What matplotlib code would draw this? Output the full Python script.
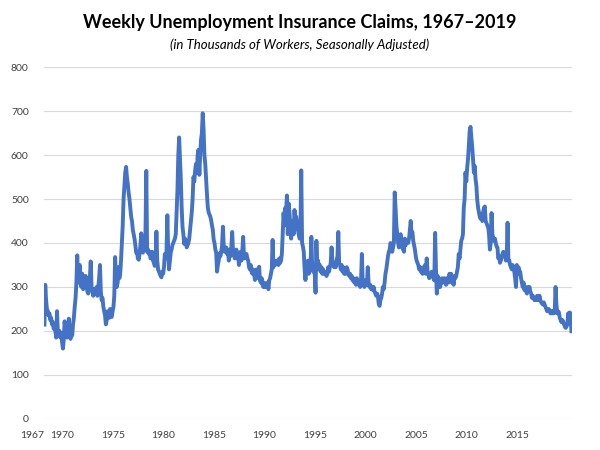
import matplotlib.pyplot as plt
import numpy as np

# monthly readings of weekly initial claims (thousands), one row per year
claims_by_year = {
    1967: [210, 305, 270, 250, 245, 235, 240, 225, 230, 215, 220, 205],
    1968: [210, 200, 185, 245, 195, 190, 200, 185, 195, 175, 160, 180],
    1969: [222, 200, 190, 185, 195, 228, 190, 182, 200, 190, 215, 230],
    1970: [255, 275, 310, 372, 310, 330, 350, 320, 300, 330, 295, 310],
    1971: [300, 325, 305, 290, 285, 300, 320, 358, 300, 290, 280, 295],
    1972: [290, 285, 300, 280, 300, 320, 350, 290, 270, 275, 255, 245],
    1973: [235, 215, 225, 245, 240, 230, 250, 235, 232, 245, 255, 280],
    1974: [368, 320, 300, 310, 345, 320, 330, 360, 400, 440, 500, 530],
    1975: [560, 573, 550, 535, 515, 500, 480, 460, 450, 430, 420, 410],
    1976: [395, 378, 380, 365, 362, 375, 395, 422, 390, 378, 390, 400],
    1977: [420, 564, 380, 385, 375, 380, 365, 370, 380, 360, 355, 348],
    1978: [350, 426, 360, 340, 335, 330, 325, 322, 335, 330, 345, 375],
    1979: [365, 380, 463, 380, 340, 360, 378, 385, 395, 400, 405, 410],
    1980: [420, 470, 520, 600, 640, 590, 545, 480, 437, 420, 398, 410],
    1981: [400, 390, 395, 400, 410, 430, 452, 470, 500, 550, 540, 565],
    1982: [580, 560, 600, 612, 555, 600, 635, 650, 695, 660, 600, 580],
    1983: [545, 512, 482, 470, 465, 460, 452, 440, 430, 408, 400, 385],
    1984: [378, 335, 350, 360, 377, 370, 380, 395, 437, 390, 380, 385],
    1985: [390, 375, 380, 360, 385, 370, 390, 425, 380, 375, 365, 370],
    1986: [385, 365, 375, 350, 370, 380, 360, 380, 414, 370, 365, 375],
    1987: [375, 365, 360, 345, 340, 350, 335, 330, 340, 330, 316, 325],
    1988: [340, 330, 320, 346, 315, 310, 320, 305, 300, 310, 300, 305],
    1989: [300, 310, 295, 315, 320, 330, 340, 407, 345, 360, 350, 355],
    1990: [360, 355, 350, 365, 355, 360, 375, 420, 468, 440, 480, 470],
    1991: [508, 420, 490, 470, 440, 410, 430, 450, 420, 475, 445, 460],
    1992: [445, 430, 420, 410, 415, 565, 400, 392, 380, 340, 316, 345],
    1993: [340, 360, 330, 345, 350, 414, 345, 335, 340, 330, 287, 405],
    1994: [345, 360, 340, 350, 335, 345, 330, 340, 330, 335, 330, 325],
    1995: [330, 345, 335, 345, 355, 390, 360, 350, 345, 355, 345, 360],
    1996: [370, 425, 355, 350, 340, 350, 335, 345, 330, 340, 330, 345],
    1997: [340, 330, 325, 330, 320, 325, 315, 320, 310, 315, 305, 320],
    1998: [315, 305, 310, 300, 315, 375, 310, 305, 300, 315, 310, 305],
    1999: [345, 310, 300, 305, 295, 300, 293, 300, 290, 285, 280, 285],
    2000: [280, 262, 257, 270, 275, 285, 300, 295, 310, 330, 340, 355],
    2001: [370, 380, 385, 400, 395, 380, 390, 400, 515, 480, 440, 420],
    2002: [400, 390, 410, 420, 405, 390, 385, 380, 410, 395, 405, 400],
    2003: [400, 410, 430, 450, 420, 425, 405, 395, 385, 370, 360, 355],
    2004: [350, 340, 345, 335, 340, 330, 345, 335, 350, 330, 365, 335],
    2005: [330, 320, 325, 330, 335, 325, 320, 315, 423, 340, 285, 325],
    2006: [300, 310, 300, 315, 320, 310, 315, 320, 310, 305, 320, 315],
    2007: [310, 330, 320, 330, 310, 315, 305, 325, 320, 325, 335, 345],
    2008: [375, 365, 385, 405, 410, 420, 480, 500, 560, 540, 570, 590],
    2009: [620, 655, 664, 640, 620, 590, 560, 575, 545, 530, 498, 480],
    2010: [470, 460, 455, 465, 450, 470, 480, 483, 450, 445, 440, 435],
    2011: [420, 385, 400, 468, 420, 410, 405, 410, 400, 392, 390, 365],
    2012: [370, 355, 360, 369, 375, 380, 370, 372, 360, 370, 446, 360],
    2013: [360, 350, 345, 340, 350, 345, 335, 320, 300, 350, 330, 345],
    2014: [330, 335, 320, 310, 300, 310, 293, 300, 290, 285, 300, 295],
    2015: [300, 290, 285, 275, 280, 275, 270, 275, 270, 280, 270, 275],
    2016: [280, 270, 265, 262, 260, 265, 260, 255, 250, 245, 248, 250],
    2017: [245, 240, 245, 240, 245, 240, 245, 300, 260, 240, 245, 242],
    2018: [230, 225, 220, 225, 222, 215, 210, 207, 210, 215, 240, 230],
    2019: [242, 225, 195],
}

tick_years = [1967, 1970, 1975, 1980, 1985, 1990, 1995, 2000, 2005, 2010, 2015]
y_ticks = [0, 100, 200, 300, 400, 500, 600, 700, 800]

dates = []
claims = []
for year, vals in claims_by_year.items():
    for m, v in enumerate(vals):
        dates.append(year + (m + 0.5) / 12)
        claims.append(v)
dates = np.array(dates)
claims = np.array(claims)

plt.rcParams['font.family'] = ['Lato', 'DejaVu Sans']

fig = plt.figure(figsize=(6, 4.5), dpi=100)
ax = fig.add_axes([0.0733, 0.069, 0.88, 0.782])

ax.plot(dates, claims, color='#4472C4', linewidth=2.8,
        solid_joinstyle='round', solid_capstyle='butt')

ax.set_xlim(1967.0, 2019.25)
ax.set_ylim(0, 800)
ax.set_yticks(y_ticks)
ax.set_xticks(tick_years)
ax.set_xticklabels([str(y) for y in tick_years], ha='right')
ax.grid(axis='y', color='#D9D9D9', linewidth=0.8)
ax.set_axisbelow(True)
for s in ax.spines.values():
    s.set_visible(False)
ax.tick_params(axis='both', length=0, labelsize=7.5, colors='#404040')
ax.tick_params(axis='y', pad=11)
ax.tick_params(axis='x', pad=9)

fig.text(0.5, 0.951, 'Weekly Unemployment Insurance Claims, 1967\u20132019',
         ha='center', va='center', fontsize=13, fontweight='bold')
fig.text(0.5, 0.90, '(in Thousands of Workers, Seasonally Adjusted)',
         ha='center', va='center', fontsize=9.5, style='italic')

plt.savefig('out.png', dpi=100)
plt.close()
